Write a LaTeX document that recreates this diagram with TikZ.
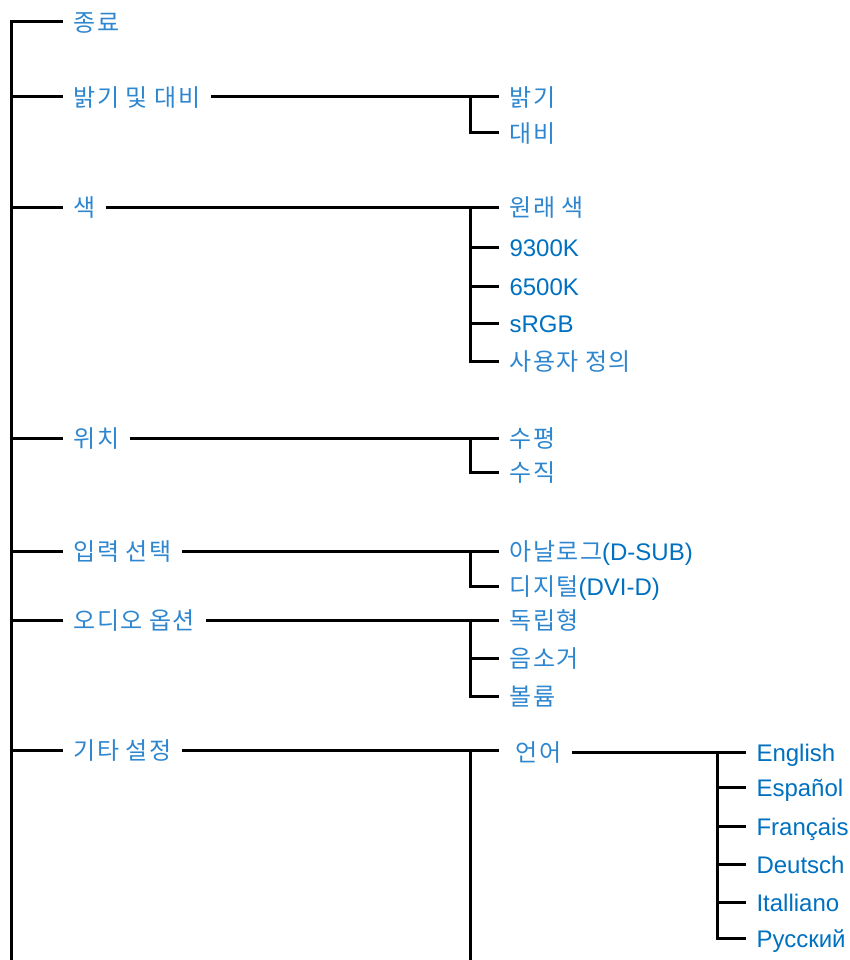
\documentclass[tikz,border=0pt]{standalone}
\usepackage{fontspec}
\setmainfont{Liberation Sans}
\newfontfamily\krfont[LetterSpace=6]{Noto Sans CJK KR}
\usepackage{xcolor}
\usepackage{tikz}
\usetikzlibrary{positioning}
\definecolor{enblue}{HTML}{0070C0}
\definecolor{krblue}{HTML}{2E86CF}
\newcommand{\hangul}[1]{{\krfont\color{krblue}#1}}

\begin{document}
\begin{tikzpicture}
	[x=1pt,y=-1pt,line width=3pt,
	item/.style={anchor=west,inner xsep=9pt,inner ysep=0pt,text height=22pt,text depth=3pt,
		font=\fontsize{24}{26}\selectfont,text=enblue}]
	\useasboundingbox (0,0) rectangle (850,960);
	% main menu
	\coordinate (root) at (11,22);
	\coordinate (rootend) at (11,960);
	\node [item] (quit) at (63,22) {\hangul{종료}};
	\node [item] (bright) at (63,97) {\hangul{밝기 및 대비}};
	\node [item] (color) at (63,207) {\hangul{색}};
	\node [item] (pos) at (63,438) {\hangul{위치}};
	\node [item] (input) at (63,551) {\hangul{입력 선택}};
	\node [item] (audio) at (63,620) {\hangul{오디오 옵션}};
	\node [item] (setup) at (63,750) {\hangul{기타 설정}};
	\draw (quit.west) -- (root) -- (rootend);
	\draw (root |- bright.west) -- (bright.west);
	\draw (root |- color.west) -- (color.west);
	\draw (root |- pos.west) -- (pos.west);
	\draw (root |- input.west) -- (input.west);
	\draw (root |- audio.west) -- (audio.west);
	\draw (root |- setup.west) -- (setup.west);
	% sub menus
	\coordinate (t1) at (470,0);
	\node [item] (bri) at (499,97) {\hangul{밝기}};
	\node [item] (con) at (499,133) {\hangul{대비}};
	\draw (bright) -- (bri);
	\draw (t1 |- bri.west) -- (t1 |- con.west) -- (con.west);
	\node [item] (orig) at (499,207) {\hangul{원래 색}};
	\node [item] (k93) at (499,247) {9300K};
	\node [item] (k65) at (499,286) {6500K};
	\node [item] (srgb) at (499,323) {sRGB};
	\node [item] (user) at (499,361) {\hangul{사용자 정의}};
	\draw (color) -- (orig);
	\draw (t1 |- orig.west) -- (t1 |- user.west) -- (user.west);
	\draw (t1 |- k93.west) -- (k93.west);
	\draw (t1 |- k65.west) -- (k65.west);
	\draw (t1 |- srgb.west) -- (srgb.west);
	\node [item] (hor) at (499,438) {\hangul{수평}};
	\node [item] (ver) at (499,472) {\hangul{수직}};
	\draw (pos) -- (hor);
	\draw (t1 |- hor.west) -- (t1 |- ver.west) -- (ver.west);
	\node [item] (dsub) at (499,551) {\hangul{아날로그}(D-SUB)};
	\node [item] (dvi) at (499,586) {\hangul{디지털}(DVI-D)};
	\draw (input) -- (dsub);
	\draw (t1 |- dsub.west) -- (t1 |- dvi.west) -- (dvi.west);
	\node [item] (indep) at (499,620) {\hangul{독립형}};
	\node [item] (mute) at (499,658) {\hangul{음소거}};
	\node [item] (vol) at (499,696) {\hangul{볼륨}};
	\draw (audio) -- (indep);
	\draw (t1 |- indep.west) -- (t1 |- vol.west) -- (vol.west);
	\draw (t1 |- mute.west) -- (mute.west);
	\node [item] (lang) at (505,752) {\hangul{언어}};
	\coordinate (setend) at (499,750);
	\coordinate (t1end) at (470,960);
	\draw (setup.east) -- (setend);
	\draw (t1 |- setend) -- (t1end);
	% languages
	\coordinate (t2) at (717,0);
	\node [item] (en) at (746,752) {English};
	\node [item] (es) at (746,787) {Español};
	\node [item] (fr) at (746,826) {Français};
	\node [item] (de) at (746,864) {Deutsch};
	\node [item] (it) at (746,902) {Italliano};
	\node [item] (ru) at (746,938) {Русский};
	\draw (lang) -- (en);
	\draw (t2 |- en.west) -- (t2 |- ru.west) -- (ru.west);
	\draw (t2 |- es.west) -- (es.west);
	\draw (t2 |- fr.west) -- (fr.west);
	\draw (t2 |- de.west) -- (de.west);
	\draw (t2 |- it.west) -- (it.west);
\end{tikzpicture}
\end{document}
